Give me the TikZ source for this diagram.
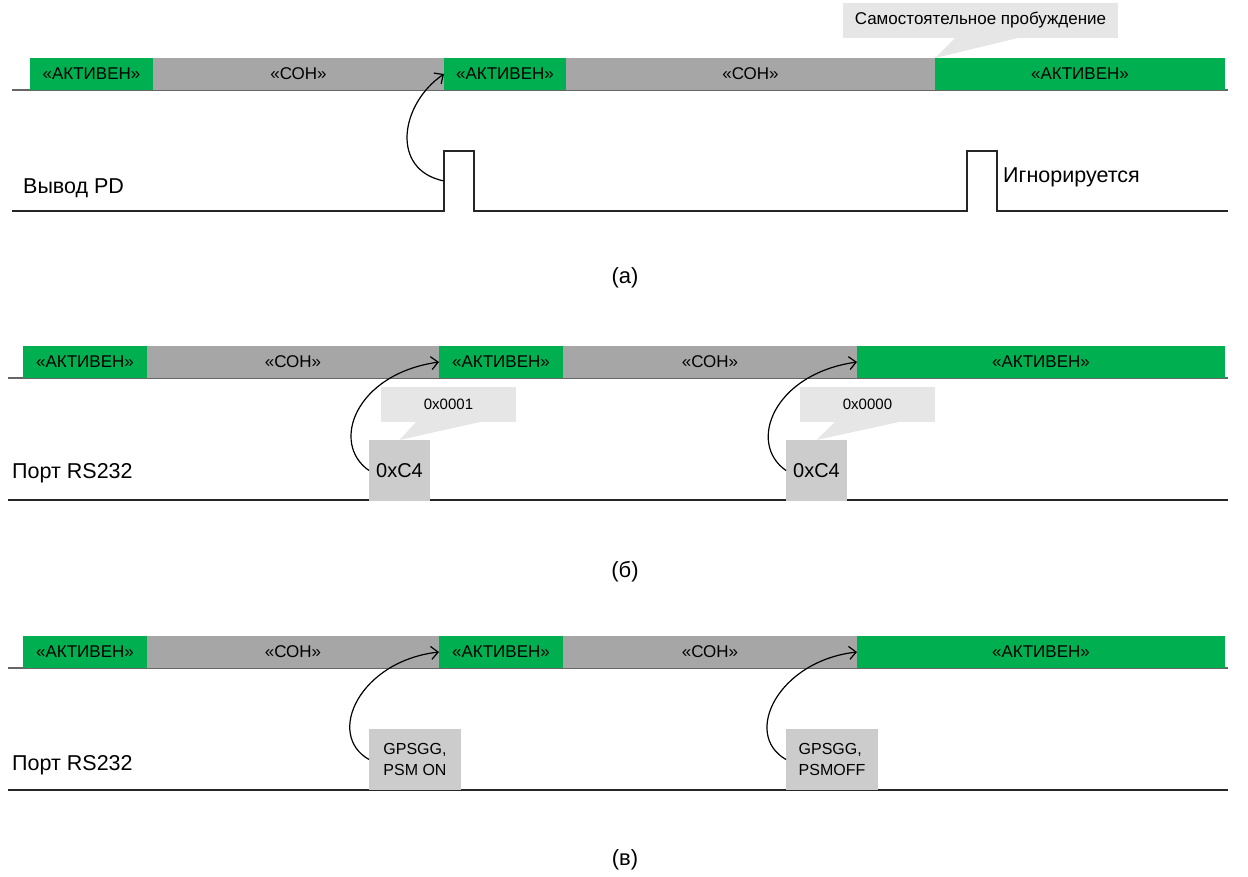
\documentclass[tikz,border=0pt]{standalone}
\usepackage{fontspec}
\setmainfont{Liberation Sans}
\usepackage{tikz}
\usetikzlibrary{positioning}
\usetikzlibrary{calc,arrows.meta}
\definecolor{actgreen}{HTML}{00B050}
\definecolor{sleepgray}{HTML}{A6A6A6}
\definecolor{notegray}{HTML}{E6E6E6}
\definecolor{cmdgray}{HTML}{CCCCCC}
\tikzset{
  bar/.style={anchor=south west, minimum height=32pt, inner sep=0pt, outer sep=0pt,
    font=\fontsize{17}{20}\selectfont},
  active/.style={bar, fill=actgreen},
  sleep/.style={bar, fill=sleepgray},
  note/.style={anchor=north west, fill=notegray, minimum height=35pt, inner sep=0pt,
    outer sep=0pt, font=\fontsize{15}{18}\selectfont},
  cmd/.style={anchor=north west, fill=cmdgray, minimum height=61pt, inner sep=0pt,
    outer sep=0pt, align=left},
  label/.style={anchor=base west, inner sep=0pt, font=\fontsize{21.5}{25}\selectfont},
  caption/.style={font=\fontsize{22}{26}\selectfont},
  axis/.style={line width=1.5pt, black!60},
  sig/.style={line width=1.5pt, black!85},
}

\begin{document}
\begin{tikzpicture}[x=1pt, y=-1pt, >={Straight Barb[length=7pt,width=13pt]}]
        \useasboundingbox (0,0) rectangle (1248,877);

        % 1. Panel (a): wake-up by the PD pin
        \draw[axis] (12,90) -- (1228,90);
        \node[active, minimum width=123pt] (a1) at (30,90) {«АКТИВЕН»};
        \node[sleep, minimum width=291pt, right=0pt of a1] (a2) {«СОН»};
        \node[active, minimum width=122pt, right=0pt of a2] (a3) {«АКТИВЕН»};
        \node[sleep, minimum width=369pt, right=0pt of a3] (a4) {«СОН»};
        \node[active, minimum width=290pt, right=0pt of a4] (a5) {«АКТИВЕН»};

        \node[note, minimum width=275pt, font=\fontsize{17}{20}\selectfont] (wake) at (843,3) {Самостоятельное пробуждение};
        \fill[notegray] ($(wake.south west)+(112,0)$) -- (a5.north west) -- ($(wake.south west)+(175,0)$) -- cycle;

        \draw[sig] (12,211) -- (444,211) -- (444,151) -- (474,151) -- (474,211)
          -- (967,211) -- (967,151) -- (997,151) -- (997,211) -- (1228,211);
        \coordinate (p1) at (444,181);
        \node[label] (pd) at (23,194) {Вывод PD};
        \node[label] (ign) at (1003,183) {Игнорируется};
        \draw[->, line width=1.2pt] (p1) .. controls +(-54,-11) and +(-44,30) .. (a3.west);

        \node[caption] (capa) at (625,278) {(а)};

        % 2. Panel (б): wake-up by a command over RS232
        \draw[axis] (8,378) -- (1228,378);
        \node[active, minimum width=124pt] (b1) at (23,378) {«АКТИВЕН»};
        \node[sleep, minimum width=292pt, right=0pt of b1] (b2) {«СОН»};
        \node[active, minimum width=124pt, right=0pt of b2] (b3) {«АКТИВЕН»};
        \node[sleep, minimum width=294pt, right=0pt of b3] (b4) {«СОН»};
        \node[active, minimum width=368pt, right=0pt of b4] (b5) {«АКТИВЕН»};

        \draw[sig] (8,500) -- (1228,500);
        \node[label] (portb) at (12,478) {Порт RS232};
        \node[cmd, minimum width=61pt, font=\fontsize{20}{23}\selectfont] (d1) at (369,440) {0xC4};
        \node[cmd, minimum width=61pt, font=\fontsize{20}{23}\selectfont] (d2) at (786,440) {0xC4};

        \node[note, minimum width=135pt] (n1) at (381,387) {0x0001};
        \fill[notegray] ($(n1.south west)+(35,0)$) -- (d1.north) -- ($(n1.south west)+(99,0)$) -- cycle;
        \node[note, minimum width=135pt] (n2) at (800,387) {0x0000};
        \fill[notegray] ($(n2.south west)+(35,0)$) -- (d2.north) -- ($(n2.south west)+(99,0)$) -- cycle;

        \draw[->, line width=1.2pt] (d1.west) .. controls +(-39,-27) and +(-84,12) .. (b3.west);
        \draw[->, line width=1.2pt] (d2.west) .. controls +(-39,-27) and +(-84,12) .. (b5.west);

        \node[caption] (capb) at (625,572) {(б)};

        % 3. Panel (в): wake-up by an NMEA command
        \draw[axis] (8,668) -- (1228,668);
        \node[active, minimum width=124pt] (c1) at (23,668) {«АКТИВЕН»};
        \node[sleep, minimum width=292pt, right=0pt of c1] (c2) {«СОН»};
        \node[active, minimum width=124pt, right=0pt of c2] (c3) {«АКТИВЕН»};
        \node[sleep, minimum width=294pt, right=0pt of c3] (c4) {«СОН»};
        \node[active, minimum width=368pt, right=0pt of c4] (c5) {«АКТИВЕН»};

        \draw[sig] (8,790) -- (1228,790);
        \node[label] (portc) at (12,770) {Порт RS232};
        \node[cmd, minimum width=92pt, font=\fontsize{16}{21}\selectfont] (e1) at (369,729) {GPSGG,\\PSM ON};
        \node[cmd, minimum width=92pt, font=\fontsize{16}{21}\selectfont] (e2) at (786,729) {GPSGG,\\PSMOFF};

        \draw[->, line width=1.2pt] (e1.west) .. controls +(-44,-25) and +(-79,9) .. (c3.west);
        \draw[->, line width=1.2pt] (e2.west) .. controls +(-44,-25) and +(-79,9) .. (c5.west);

        \node[caption] (capc) at (625,860) {(в)};
    \end{tikzpicture}
\end{document}
